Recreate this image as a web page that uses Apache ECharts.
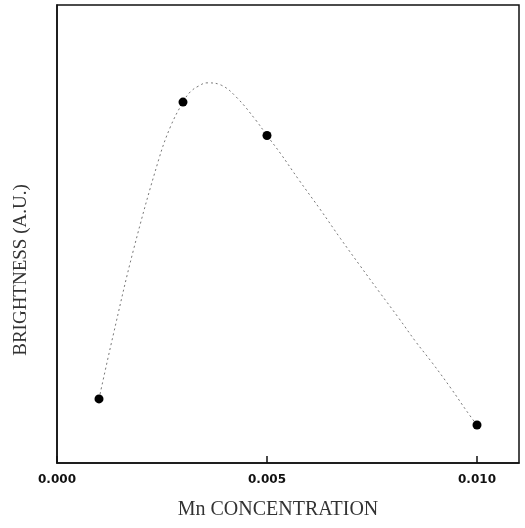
<!DOCTYPE html>
<html>
<head>
<meta charset="utf-8">
<script src="https://cdn.jsdelivr.net/npm/echarts@6/dist/echarts.min.js"></script>
<style>
html,body{margin:0;padding:0;background:#fff;}
#chart{width:525px;height:528px;}
</style>
</head>
<body>
<div id="chart"></div>
<script>
// Measured data points (Mn concentration vs brightness, arbitrary units)
var concentration = [0.001, 0.003, 0.005, 0.010];
var brightness = [14.0, 78.8, 71.5, 8.3];

// Fitted curve
var curveX = [0.001, 0.00133, 0.00182, 0.00242, 0.00270, 0.0030, 0.00317, 0.00337, 0.00357, 0.00391, 0.00429, 0.00473, 0.0050, 0.00532, 0.00576, 0.00628, 0.00675, 0.00723, 0.00767, 0.00814, 0.00854, 0.00894, 0.00938, 0.00978, 0.0100];
var curveY = [14.0, 27.6, 46.5, 66.2, 73.4, 78.8, 81.0, 82.3, 83.0, 82.5, 79.7, 74.9, 71.5, 67.6, 61.8, 55.2, 49.0, 42.9, 37.4, 31.6, 26.5, 21.8, 16.3, 11.0, 8.3];

// Axis tick labels
var xTicks = ['0.000', '0.005', '0.010'];
var xName = 'Mn CONCENTRATION';
var yName = 'BRIGHTNESS (A.U.)';

var chart = echarts.init(document.getElementById('chart'), null, {renderer: 'canvas'});

var curveData = curveX.map(function (x, i) { return [x, curveY[i]]; });
var pointData = concentration.map(function (x, i) { return [x, brightness[i]]; });

chart.setOption({
  animation: false,
  backgroundColor: '#ffffff',
  grid: {
    left: 57, right: 6, top: 5, bottom: 65,
    show: true, borderColor: '#111', borderWidth: 1.5, backgroundColor: 'transparent'
  },
  xAxis: {
    type: 'value',
    min: 0, max: 0.011, interval: 0.005,
    name: xName,
    nameLocation: 'middle',
    nameGap: 37,
    nameTextStyle: {
      fontFamily: 'Liberation Serif', fontSize: 20, color: '#333',
      padding: [0, 20, 0, 0]
    },
    axisLine: {show: true, onZero: false, lineStyle: {color: '#111', width: 1.5}},
    axisTick: {show: true, inside: true, length: 7, lineStyle: {color: '#111', width: 1.5}},
    splitLine: {show: false},
    axisLabel: {
      margin: 11,
      fontFamily: 'DejaVu Sans', fontWeight: 'bold', fontSize: 12, color: '#111',
      showMaxLabel: false,
      formatter: function (v) {
        var k = Math.round(v / 0.005);
        if (Math.abs(v - k * 0.005) > 1e-9) return '';
        return xTicks[k] !== undefined ? xTicks[k] : '';
      }
    }
  },
  yAxis: {
    type: 'value',
    min: 0, max: 100,
    name: yName,
    nameLocation: 'middle',
    nameGap: 26,
    nameRotate: 90,
    nameTextStyle: {
      fontFamily: 'Liberation Serif', fontSize: 19, color: '#333',
      padding: [0, 72, 0, 0]
    },
    axisLine: {show: true, lineStyle: {color: '#111', width: 1.5}},
    axisTick: {show: false},
    axisLabel: {show: false},
    splitLine: {show: false}
  },
  series: [
    {
      type: 'line',
      data: curveData,
      smooth: 0.4,
      showSymbol: false,
      symbol: 'none',
      lineStyle: {color: '#777', width: 1, type: [2, 3]},
      z: 2
    },
    {
      type: 'scatter',
      data: pointData,
      symbol: 'circle',
      symbolSize: 9,
      itemStyle: {color: '#000', opacity: 1},
      z: 3
    }
  ]
});
</script>
</body>
</html>
